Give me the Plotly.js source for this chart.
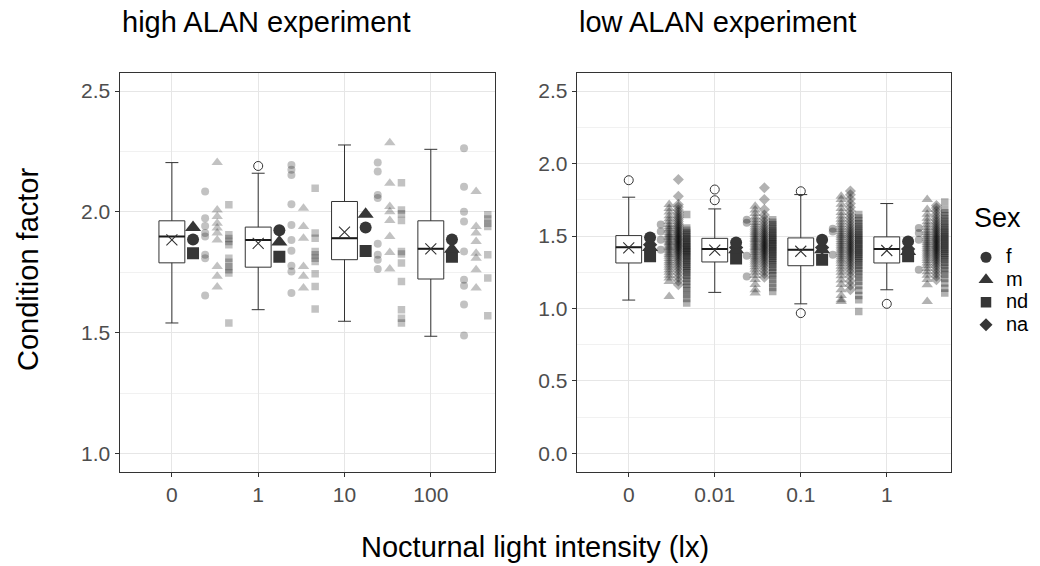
<!DOCTYPE html>
<html>
<head>
<meta charset="utf-8">
<script src="https://cdn.plot.ly/plotly-3.0.1.min.js"></script>
<style>html,body{margin:0;padding:0;background:#fff;}#chart{width:1040px;height:566px;}</style>
</head>
<body>
<div id="chart"></div>
<script>
// ---------------- DATA ----------------
const hiCats = ['0', '1', '10', '100'];
const loCats = ['0', '0.01', '0.1', '1'];
const sexes = ['f', 'm', 'nd', 'na'];

// high ALAN boxplot statistics
const hiLow = [1.540, 1.595, 1.547, 1.485];
const hiQ1 = [1.789, 1.771, 1.802, 1.722];
const hiMed = [1.898, 1.884, 1.891, 1.847];
const hiQ3 = [1.963, 1.937, 2.043, 1.963];
const hiHigh = [2.204, 2.160, 2.277, 2.259];
const hiMean = [1.884, 1.870, 1.916, 1.847];
const hiOutliers = [[], [2.190], [], []];

// high ALAN sex means
const hiMeanF = [1.886, 1.924, 1.935, 1.886];
const hiMeanM = [1.935, 1.875, 1.990, 1.845];
const hiMeanND = [1.829, 1.814, 1.838, 1.814];

// high ALAN raw values
const hiRawF = [
  [2.084, 1.974, 1.942, 1.912, 1.898, 1.822, 1.808, 1.654],
  [2.194, 2.174, 2.153, 2.032, 1.946, 1.884, 1.839, 1.777, 1.753, 1.664],
  [2.204, 2.167, 2.070, 2.057, 1.868, 1.822, 1.802, 1.763],
  [2.263, 2.104, 2.001, 1.960, 1.836, 1.719, 1.694, 1.616, 1.488]
];
const hiRawM = [
  [2.204, 2.008, 1.981, 1.953, 1.933, 1.912, 1.884, 1.774, 1.733, 1.689],
  [2.015, 1.939, 1.891, 1.774, 1.733, 1.685],
  [2.286, 2.118, 2.022, 2.001, 1.964, 1.898, 1.832, 1.763],
  [2.084, 1.939, 1.912, 1.877, 1.829, 1.808, 1.760, 1.685]
];
const hiRawND = [
  [2.029, 1.905, 1.890, 1.877, 1.864, 1.808, 1.791, 1.774, 1.760, 1.747, 1.540],
  [2.098, 1.912, 1.891, 1.836, 1.822, 1.808, 1.795, 1.744, 1.691, 1.598],
  [2.121, 2.008, 1.992, 1.964, 1.836, 1.826, 1.788, 1.712, 1.595, 1.560, 1.540],
  [1.988, 1.970, 1.953, 1.939, 1.822, 1.726, 1.570]
];

// low ALAN boxplot statistics
const loLow = [1.058, 1.111, 1.032, 1.129];
const loQ1 = [1.314, 1.321, 1.295, 1.314];
const loMed = [1.422, 1.411, 1.406, 1.411];
const loQ3 = [1.503, 1.484, 1.487, 1.494];
const loHigh = [1.768, 1.687, 1.786, 1.724];
const loMean = [1.418, 1.402, 1.395, 1.400];
const loOutliers = [[1.885], [1.821, 1.747], [1.809, 0.968], [1.032]];

// low ALAN sex means
const loMeanF = [1.490, 1.455, 1.475, 1.463];
const loMeanM = [1.420, 1.405, 1.406, 1.394];
const loMeanND = [1.360, 1.345, 1.337, 1.360];
const loMeanNA = [1.440, 1.420, 1.420, 1.410];

// low ALAN raw values
const loRawF = [
  [1.579, 1.532, 1.475, 1.406],
  [1.613, 1.591, 1.364, 1.221],
  [1.550, 1.532, 1.371],
  [1.556, 1.521, 1.475, 1.268]
];
const loRawM = [
  [1.717, 1.690, 1.665, 1.640, 1.620, 1.600, 1.580, 1.565, 1.550, 1.540, 1.525, 1.510, 1.500, 1.490, 1.478, 1.465, 1.455, 1.445, 1.432, 1.420, 1.410, 1.398, 1.385, 1.372, 1.360, 1.345, 1.330, 1.315, 1.300, 1.285, 1.268, 1.250, 1.230, 1.210, 1.187, 1.083],
  [1.705, 1.680, 1.655, 1.632, 1.612, 1.594, 1.578, 1.562, 1.548, 1.535, 1.522, 1.510, 1.498, 1.487, 1.476, 1.465, 1.454, 1.443, 1.432, 1.421, 1.410, 1.398, 1.386, 1.374, 1.361, 1.348, 1.334, 1.320, 1.305, 1.288, 1.270, 1.250, 1.228, 1.200, 1.165, 1.130, 1.107],
  [1.775, 1.752, 1.720, 1.690, 1.662, 1.638, 1.616, 1.596, 1.578, 1.561, 1.545, 1.530, 1.516, 1.502, 1.489, 1.476, 1.463, 1.450, 1.437, 1.424, 1.411, 1.398, 1.385, 1.371, 1.357, 1.342, 1.327, 1.310, 1.292, 1.272, 1.250, 1.225, 1.197, 1.165, 1.130, 1.090, 1.060, 1.048],
  [1.752, 1.683, 1.650, 1.622, 1.598, 1.577, 1.558, 1.540, 1.524, 1.509, 1.495, 1.481, 1.468, 1.455, 1.442, 1.429, 1.416, 1.403, 1.390, 1.376, 1.362, 1.347, 1.331, 1.314, 1.296, 1.276, 1.254, 1.230, 1.200, 1.164, 1.048]
];
const loRawNA = [
  [1.890, 1.775, 1.717, 1.700, 1.680, 1.662, 1.645, 1.630, 1.615, 1.600, 1.585, 1.572, 1.560, 1.548, 1.536, 1.525, 1.514, 1.503, 1.492, 1.482, 1.472, 1.462, 1.452, 1.442, 1.432, 1.422, 1.411, 1.400, 1.388, 1.376, 1.362, 1.348, 1.333, 1.318, 1.300, 1.282, 1.262, 1.240, 1.215, 1.190, 1.164],
  [1.833, 1.752, 1.683, 1.645, 1.620, 1.598, 1.578, 1.560, 1.545, 1.530, 1.516, 1.503, 1.490, 1.478, 1.466, 1.455, 1.444, 1.433, 1.422, 1.411, 1.400, 1.388, 1.376, 1.363, 1.350, 1.335, 1.320, 1.303, 1.285, 1.262, 1.240, 1.215],
  [1.810, 1.785, 1.755, 1.725, 1.698, 1.672, 1.648, 1.626, 1.605, 1.585, 1.566, 1.549, 1.533, 1.518, 1.503, 1.489, 1.475, 1.462, 1.449, 1.436, 1.423, 1.410, 1.397, 1.384, 1.370, 1.356, 1.341, 1.325, 1.308, 1.290, 1.270, 1.248, 1.222, 1.190, 1.160, 1.130],
  [1.710, 1.694, 1.672, 1.650, 1.630, 1.611, 1.594, 1.578, 1.563, 1.549, 1.536, 1.523, 1.511, 1.499, 1.487, 1.476, 1.465, 1.454, 1.443, 1.432, 1.421, 1.410, 1.399, 1.387, 1.375, 1.362, 1.349, 1.335, 1.320, 1.304, 1.286, 1.266, 1.244, 1.222, 1.198]
];
const loRawND = [
  [1.648, 1.556, 1.540, 1.525, 1.510, 1.497, 1.485, 1.472, 1.460, 1.448, 1.437, 1.426, 1.415, 1.404, 1.393, 1.382, 1.370, 1.358, 1.346, 1.333, 1.320, 1.306, 1.292, 1.277, 1.262, 1.246, 1.228, 1.210, 1.190, 1.168, 1.145, 1.120, 1.095, 1.068, 1.037],
  [1.613, 1.595, 1.578, 1.562, 1.547, 1.533, 1.520, 1.507, 1.494, 1.482, 1.470, 1.458, 1.446, 1.434, 1.422, 1.410, 1.398, 1.386, 1.373, 1.360, 1.346, 1.332, 1.317, 1.301, 1.284, 1.266, 1.246, 1.225, 1.200, 1.172, 1.145, 1.118],
  [1.648, 1.625, 1.604, 1.585, 1.567, 1.550, 1.534, 1.519, 1.505, 1.491, 1.478, 1.465, 1.452, 1.439, 1.426, 1.413, 1.400, 1.387, 1.374, 1.360, 1.346, 1.331, 1.315, 1.298, 1.280, 1.260, 1.238, 1.214, 1.188, 1.158, 1.125, 1.090, 1.060, 0.979],
  [1.735, 1.683, 1.660, 1.640, 1.621, 1.603, 1.586, 1.570, 1.555, 1.540, 1.526, 1.512, 1.499, 1.486, 1.473, 1.460, 1.447, 1.434, 1.421, 1.408, 1.395, 1.381, 1.367, 1.352, 1.336, 1.319, 1.300, 1.280, 1.258, 1.234, 1.207, 1.175, 1.140, 1.107]
];

// ---------------- STYLE ----------------
const FONT = 'Liberation Sans, Arial, Helvetica, sans-serif';
const SYM = {f: 'circle', m: 'triangle-up', nd: 'square', na: 'diamond'};
const RAW_SIZE = {f: 8, m: 10, nd: 7.5, na: 8.5};
const MEAN_SIZE = {f: 12, m: 14, nd: 12, na: 11};
const LEG_SIZE = {f: 11, m: 13, nd: 10.5, na: 10};
const DARK = '#363636';
const BOX_W = 0.3;

const traces = [];

function addPanel(xa, ya, n, low, q1, med, q3, high, mean, outliers, sexMeans, raws, offsets, rawCol) {
  const pos = [];
  for (let i = 0; i < n; i++) pos.push(i);
  traces.push({
    type: 'box', orientation: 'v', xaxis: xa, yaxis: ya, x: pos,
    q1: q1, median: med, q3: q3, lowerfence: low, upperfence: high,
    width: BOX_W, whiskerwidth: 0.5, fillcolor: '#ffffff',
    line: {color: '#333333', width: 1}, boxpoints: false,
    showlegend: false, hoverinfo: 'skip'
  });
  // thicker median
  const mx = [], my = [];
  pos.forEach((p, i) => { mx.push(p - BOX_W / 2, p + BOX_W / 2, null); my.push(med[i], med[i], null); });
  traces.push({type: 'scatter', mode: 'lines', xaxis: xa, yaxis: ya, x: mx, y: my,
    line: {color: '#1a1a1a', width: 2}, showlegend: false, hoverinfo: 'skip'});
  // outliers
  const ox = [], oy = [];
  outliers.forEach((arr, i) => arr.forEach(v => { ox.push(pos[i]); oy.push(v); }));
  traces.push({type: 'scatter', mode: 'markers', xaxis: xa, yaxis: ya, x: ox, y: oy,
    marker: {symbol: 'circle-open', size: 9, color: '#333333', line: {width: 1, color: '#333333'}},
    showlegend: false, hoverinfo: 'skip'});
  // mean cross
  traces.push({type: 'scatter', mode: 'markers', xaxis: xa, yaxis: ya, x: pos, y: mean,
    marker: {symbol: 'x-thin-open', size: 11, color: '#333333', line: {width: 1.1, color: '#333333'}},
    showlegend: false, hoverinfo: 'skip'});
  // raw points
  Object.keys(raws).forEach(s => {
    const rx = [], ry = [];
    raws[s].forEach((arr, i) => arr.forEach(v => { rx.push(pos[i] + offsets[s]); ry.push(v); }));
    traces.push({type: 'scatter', mode: 'markers', xaxis: xa, yaxis: ya, x: rx, y: ry,
      marker: {symbol: SYM[s], size: RAW_SIZE[s], color: rawCol, line: {width: 0}},
      showlegend: false, hoverinfo: 'skip'});
  });
  // sex means (dark)
  ['na', 'nd', 'm', 'f'].forEach(s => {
    if (!sexMeans[s]) return;
    traces.push({type: 'scatter', mode: 'markers', xaxis: xa, yaxis: ya,
      x: pos.map(p => p + offsets.mean), y: sexMeans[s],
      marker: {symbol: SYM[s], size: MEAN_SIZE[s], color: DARK, line: {width: 0}},
      showlegend: false, hoverinfo: 'skip'});
  });
}

addPanel('x', 'y', hiCats.length, hiLow, hiQ1, hiMed, hiQ3, hiHigh, hiMean, hiOutliers,
  {f: hiMeanF, m: hiMeanM, nd: hiMeanND},
  {f: hiRawF, m: hiRawM, nd: hiRawND},
  {mean: 0.245, f: 0.385, m: 0.525, nd: 0.66}, 'rgba(0,0,0,0.24)');

addPanel('x2', 'y2', loCats.length, loLow, loQ1, loMed, loQ3, loHigh, loMean, loOutliers,
  {f: loMeanF, m: loMeanM, nd: loMeanND, na: loMeanNA},
  {f: loRawF, m: loRawM, na: loRawNA, nd: loRawND},
  {mean: 0.248, f: 0.372, m: 0.47, na: 0.577, nd: 0.674}, 'rgba(0,0,0,0.3)');

// legend entries
sexes.forEach(s => {
  traces.push({type: 'scatter', mode: 'markers', x: [null], y: [null],
    name: '<span style="font-size:20px">' + s + '</span>',
    marker: {symbol: SYM[s], size: LEG_SIZE[s], color: DARK, line: {width: 0}}, showlegend: true});
});

const W = 1040, H = 566;
const yDom = [1 - 471.5 / H, 1 - 73 / H];
const gridCol = '#e6e6e6';
const minorCol = '#f1f1f1';
function xAxis(dom, rng, cats, anchor) {
  return {domain: dom, range: rng, anchor: anchor, tickmode: 'array', tickvals: [0, 1, 2, 3], ticktext: cats,
    showgrid: true, gridcolor: gridCol, gridwidth: 1, zeroline: false,
    showline: true, mirror: true, linecolor: '#333333', linewidth: 1,
    ticks: 'outside', ticklen: 4, tickcolor: '#333333', tickwidth: 1,
    tickfont: {family: FONT, size: 21, color: '#4d4d4d'}, fixedrange: true};
}
function yAxis(rng, anchor) {
  return {domain: yDom, range: rng, anchor: anchor, tickmode: 'linear', tick0: 0, dtick: 0.5, tickformat: '.1f',
    showgrid: true, gridcolor: gridCol, gridwidth: 1, zeroline: false,
    minor: {dtick: 0.25, tick0: 0, showgrid: true, gridcolor: minorCol, gridwidth: 1},
    showline: true, mirror: true, linecolor: '#333333', linewidth: 1,
    ticks: 'outside', ticklen: 4, tickcolor: '#333333', tickwidth: 1,
    tickfont: {family: FONT, size: 21, color: '#4d4d4d'}, fixedrange: true};
}

const layout = {
  width: W, height: H, autosize: false,
  margin: {l: 0, r: 0, t: 0, b: 0},
  paper_bgcolor: '#ffffff', plot_bgcolor: '#ffffff',
  font: {family: FONT, color: '#000000'},
  xaxis: xAxis([119.5 / W, 494.5 / W], [-0.607, 3.738], hiCats, 'y'),
  yaxis: yAxis([0.925, 2.575], 'x'),
  xaxis2: xAxis([576.7 / W, 951.3 / W], [-0.605, 3.75], loCats, 'y2'),
  yaxis2: yAxis([-0.125, 2.625], 'x2'),
  showlegend: true,
  legend: {x: 966 / W, xanchor: 'left', y: 1 - 241 / H, yanchor: 'top',
    font: {family: FONT, size: 15, color: '#000000'}, bgcolor: 'rgba(0,0,0,0)', borderwidth: 0},
  annotations: [
    {text: 'high ALAN experiment', xref: 'paper', yref: 'paper', x: 120 / W, y: 1 - 22 / H,
      xanchor: 'left', yanchor: 'middle', showarrow: false, font: {family: FONT, size: 29, color: '#000'}},
    {text: 'low ALAN experiment', xref: 'paper', yref: 'paper', x: 577 / W, y: 1 - 22 / H,
      xanchor: 'left', yanchor: 'middle', showarrow: false, font: {family: FONT, size: 29, color: '#000'}},
    {text: 'Condition factor', xref: 'paper', yref: 'paper', x: 28 / W, y: 1 - 270 / H, textangle: -90,
      xanchor: 'center', yanchor: 'middle', showarrow: false, font: {family: FONT, size: 29, color: '#000'}},
    {text: 'Nocturnal light intensity (lx)', xref: 'paper', yref: 'paper', x: 535 / W, y: 1 - 547 / H,
      xanchor: 'center', yanchor: 'middle', showarrow: false, font: {family: FONT, size: 29, color: '#000'}},
    {text: 'Sex', xref: 'paper', yref: 'paper', x: 972 / W, y: 1 - 218 / H,
      xanchor: 'left', yanchor: 'middle', showarrow: false, font: {family: FONT, size: 27, color: '#000'}}
  ]
};

Plotly.newPlot('chart', traces, layout, {staticPlot: true, displayModeBar: false});
</script>
</body>
</html>
